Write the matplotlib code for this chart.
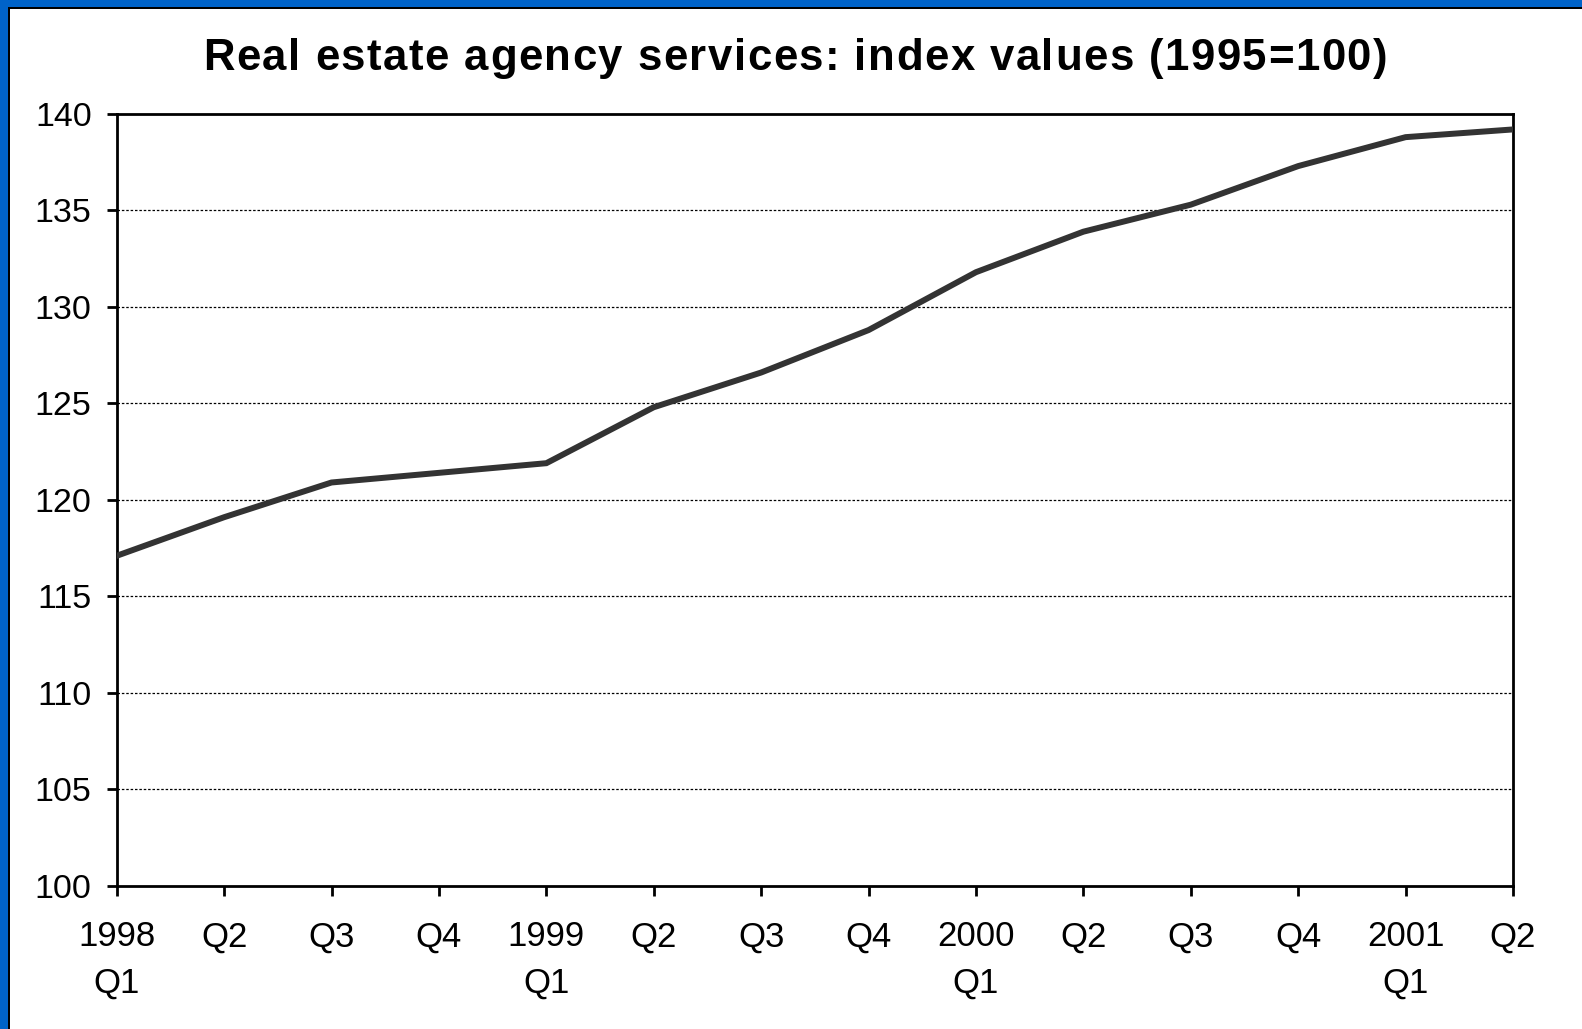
import matplotlib
matplotlib.use("Agg")
import matplotlib.pyplot as plt
from matplotlib.patches import Rectangle
from matplotlib.font_manager import FontProperties, findfont, get_font

# quarterly index, 1995 = 100
quarters = ["1998\nQ1", "Q2", "Q3", "Q4",
            "1999\nQ1", "Q2", "Q3", "Q4",
            "2000\nQ1", "Q2", "Q3", "Q4",
            "2001\nQ1", "Q2"]
index_values = [117.1, 119.1, 120.9, 121.4,
                121.9, 124.8, 126.6, 128.8,
                131.8, 133.9, 135.3, 137.3,
                138.8, 139.2]
y_ticks = [100, 105, 110, 115, 120, 125, 130, 135, 140]
title = "Real estate agency services: index values (1995=100)"

plt.rcParams['font.family'] = ['Liberation Sans', 'DejaVu Sans']

W, H = 1582, 1029
DPI = 100
fig = plt.figure(figsize=(W / DPI, H / DPI), dpi=DPI)

# slide frame: blue band along top and left with a thin black rule inside
blue = '#0063c9'
fig.patches.append(Rectangle((0, 1 - 7 / H), 1, 7 / H, transform=fig.transFigure,
                             facecolor=blue, edgecolor='none', zorder=0))
fig.patches.append(Rectangle((0, 1 - 9 / H), 1, 2 / H, transform=fig.transFigure,
                             facecolor='black', edgecolor='none', zorder=0))
fig.patches.append(Rectangle((0, 0), 8 / W, 1, transform=fig.transFigure,
                             facecolor=blue, edgecolor='none', zorder=0))
fig.patches.append(Rectangle((8 / W, 0), 2 / W, 1 - 7 / H, transform=fig.transFigure,
                             facecolor='black', edgecolor='none', zorder=0))

ax = fig.add_axes([116.7 / W, 1 - 885.7 / H, (1513 - 116.7) / W, (885.7 - 114) / H])

x = list(range(len(quarters)))
ax.plot(x, index_values, color='#333333', lw=4.3, solid_joinstyle='miter', zorder=3)

ax.set_xlim(0, len(quarters) - 1)
ax.set_ylim(100, 140)
ax.set_xticks(x)
ax.set_xticklabels(quarters, fontsize=25, linespacing=1.52, va='top')
ax.set_yticks(y_ticks)
ax.set_yticklabels([str(v) for v in y_ticks], fontsize=24.5)

for v in y_ticks[1:-1]:
    ax.axhline(v, color='black', lw=0.9, ls=(0, (2, 1.5)), zorder=1)

for s in ax.spines.values():
    s.set_linewidth(2)
ax.tick_params(axis='both', direction='out', length=7, width=2, colors='black')
ax.tick_params(axis='x', pad=18)
ax.tick_params(axis='y', pad=11)

# title with widened letter spacing, laid out one glyph at a time
t_size = 31.5
t_left, t_right, t_base = 203, 1387, 70
prop = FontProperties(family='Liberation Sans', weight='bold', size=t_size)
font = get_font(findfont(prop))
font.set_size(t_size, DPI)
adv = [font.load_char(ord(c)).linearHoriAdvance / 65536 for c in title]
extra = (t_right - t_left - sum(adv)) / (len(title) - 1)
pen = t_left
for c, a in zip(title, adv):
    if c != ' ':
        fig.text(pen / W, 1 - t_base / H, c, ha='left', va='baseline',
                 fontproperties=prop)
    pen += a + extra

fig.savefig("out.png", dpi=DPI, facecolor='white')
